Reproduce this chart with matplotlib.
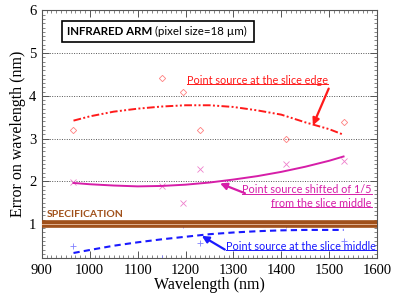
import matplotlib
matplotlib.use('Agg')
import matplotlib.pyplot as plt
from matplotlib.ticker import MultipleLocator
from matplotlib.patches import Rectangle
from matplotlib.lines import Line2D

wl_pts = [966, 1150, 1195, 1230, 1410, 1530]
edge_pts = [3.19, 4.41, 4.10, 3.19, 3.00, 3.38]
shift_pts = [1.99, 1.89, 1.49, 2.29, 2.41, 2.48]
middle_pts = [0.48, 0.21, 0.98, 0.56, 0.98, 0.60]

wl_fit = [966, 1000, 1050, 1100, 1150, 1200, 1250, 1300, 1350, 1400, 1450, 1500, 1530]
edge_fit = [3.42, 3.52, 3.63, 3.70, 3.75, 3.78, 3.78, 3.74, 3.66, 3.56, 3.38, 3.22, 3.09]
shift_fit = [1.96, 1.93, 1.90, 1.88, 1.89, 1.92, 1.97, 2.04, 2.12, 2.22, 2.34, 2.48, 2.58]
middle_fit = [0.32, 0.39, 0.49, 0.57, 0.64, 0.70, 0.76, 0.80, 0.83, 0.85, 0.86, 0.86, 0.86]

spec_level = 1.0

RED = '#ff1a1a'
MAG = '#d61ea8'
BLUE = '#1a1aff'
BROWN = '#a0501a'
SANS = 'Lato'

fig = plt.figure(figsize=(3.99, 3.08), dpi=100)
ax = fig.add_axes([0.105, 0.162, 0.84, 0.804])
ax.set_xlim(900, 1600)
ax.set_ylim(0.2, 6)

# grille pointillée
for y in [2, 3, 4, 5]:
    ax.axhline(y, color='#555555', lw=0.7, ls=(0, (1, 1.5)), zorder=1)

# points de mesure
ax.plot(wl_pts, middle_pts, ls='none', marker='+', ms=5, mew=0.6, color='#8080ff', zorder=2)
ax.plot(wl_pts, shift_pts, ls='none', marker='x', ms=4, mew=0.6, color='#ee80cc', zorder=2)
ax.plot(wl_pts, edge_pts, ls='none', marker='D', ms=3.2, mew=0.6, mfc='none', color='#ff8080', zorder=2)

# spécification
ax.axhline(spec_level, color=BROWN, lw=5.5, zorder=3)
ax.axhline(spec_level, color='#e0b090', lw=0.7, zorder=4)
ax.text(910, 1.23, 'SPECIFICATION', color=BROWN, fontsize=7.5, fontweight='bold',
        family=SANS, va='center', ha='left')

# courbes
ax.plot(wl_fit, edge_fit, color=RED, lw=1.4, dashes=[4, 1.2, 1, 1.2, 1, 1.2], zorder=5)
ax.plot(wl_fit, shift_fit, color=MAG, lw=1.4, zorder=5)
ax.plot(wl_fit, middle_fit, color=BLUE, lw=1.5, dashes=[3, 2], zorder=5)

# flèches
arrow = dict(arrowstyle='-|>', lw=1.6, mutation_scale=10, shrinkA=0, shrinkB=0)
ax.annotate('', xy=(1466, 3.31), xytext=(1499, 4.17), arrowprops=dict(arrow, color=RED), zorder=6)
ax.annotate('', xy=(1272, 1.95), xytext=(1324, 1.72), arrowprops=dict(arrow, color=MAG), zorder=6)
ax.annotate('', xy=(1234, 0.72), xytext=(1282, 0.40), arrowprops=dict(arrow, color=BLUE), zorder=6)

# textes soulignés
labels = [
    (1203, 4.36, 'Point source at the slice edge', RED, 'left'),
    (1589, 1.80, 'Point source shifted of 1/5', MAG, 'right'),
    (1589, 1.49, 'from the slice middle', MAG, 'right'),
    (1285, 0.48, 'Point source at the slice middle', BLUE, 'left'),
]
texts = []
for x, y, s, c, ha in labels:
    t = ax.text(x, y, s, color=c, fontsize=7.8, family=SANS, ha=ha, va='center', zorder=7)
    texts.append((t, c))

# encadré
ax.add_patch(Rectangle((0.06, 0.872), 0.573, 0.086, transform=ax.transAxes,
                       fill=False, ec='black', lw=1.2, zorder=8))
t1 = ax.text(0.075, 0.915, 'INFRARED ARM', transform=ax.transAxes, fontsize=8.3,
             fontweight='bold', family=SANS, va='center', ha='left', zorder=9)

# axes
ax.xaxis.set_major_locator(MultipleLocator(100))
ax.xaxis.set_minor_locator(MultipleLocator(10))
ax.yaxis.set_major_locator(MultipleLocator(1))
ax.yaxis.set_minor_locator(MultipleLocator(0.1))
ax.tick_params(which='both', direction='in', top=True, right=True, color='#555555')
ax.tick_params(which='major', length=5, width=0.7, labelsize=10.5, pad=4)
ax.tick_params(which='minor', length=2.5, width=0.5)
for lab in ax.get_xticklabels() + ax.get_yticklabels():
    lab.set_family('Liberation Serif')
for sp in ax.spines.values():
    sp.set_color('#555555')
    sp.set_linewidth(0.8)
ax.set_yticks([1, 2, 3, 4, 5, 6])
ax.set_xlabel('Wavelength (nm)', family='Liberation Serif', fontsize=11.5, labelpad=0)
ax.set_ylabel('Error on wavelength (nm)', family='Liberation Serif', fontsize=11.5, labelpad=2)

# soulignement et suite de l'encadré après rendu
fig.canvas.draw()
r = fig.canvas.get_renderer()
inv = fig.transFigure.inverted()
for t, c in texts:
    bb = t.get_window_extent(r)
    (x0, y0), (x1, y1) = inv.transform([(bb.x0, bb.y0 + 1.5), (bb.x1, bb.y0 + 1.5)])
    fig.add_artist(Line2D([x0, x1], [y0, y1], color=c, lw=0.7, transform=fig.transFigure, zorder=8))
bb = t1.get_window_extent(r)
xa = ax.transAxes.inverted().transform((bb.x1 + 3, 0))[0]
ax.text(xa, 0.915, '(pixel size=18 µm)', transform=ax.transAxes, fontsize=8.3,
        family=SANS, va='center', ha='left', zorder=9)

fig.savefig('out.png', dpi=100)
